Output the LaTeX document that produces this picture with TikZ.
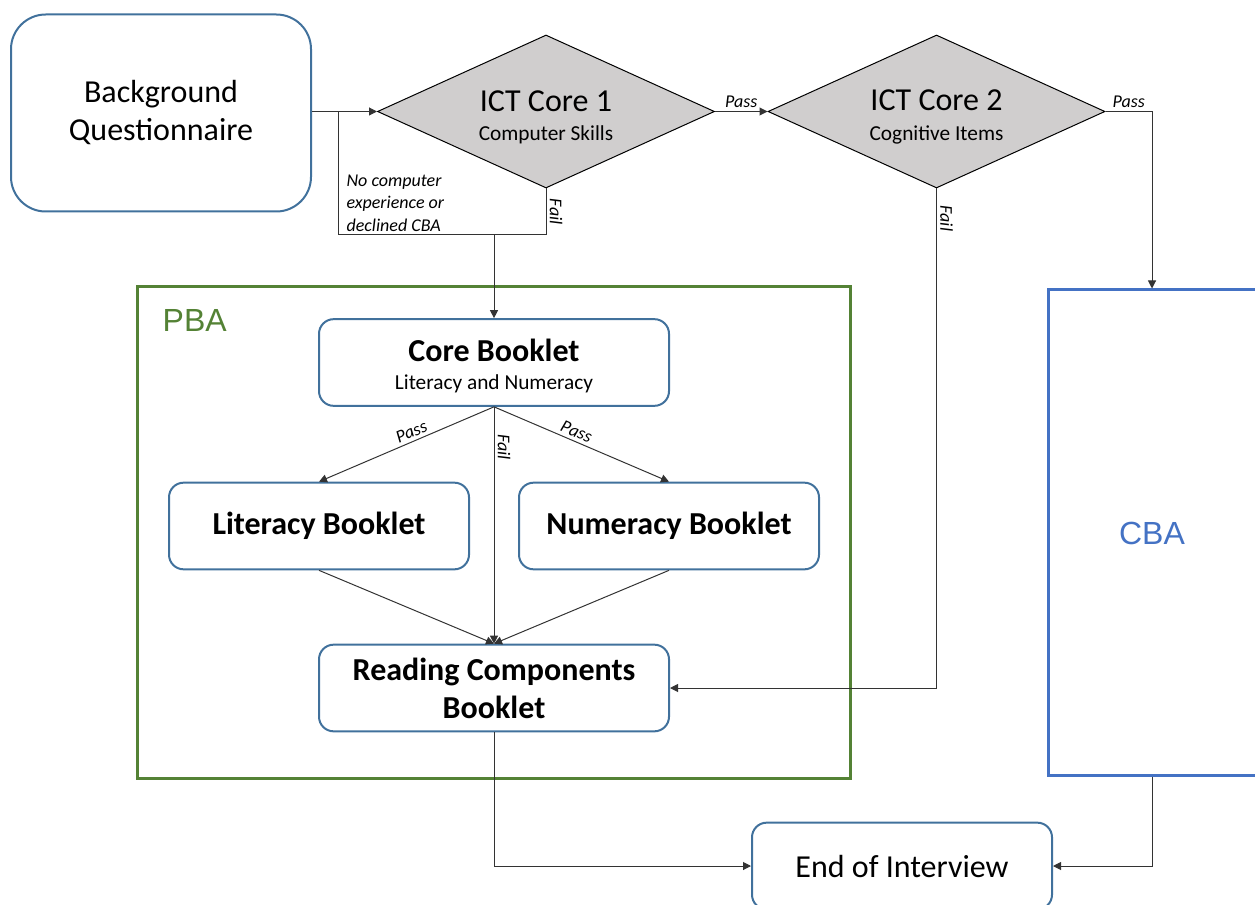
\documentclass[tikz,border=0pt]{standalone}
\usepackage{fontspec}
\setmainfont{Carlito}
\newfontfamily\arialf{Liberation Sans}
\usetikzlibrary{arrows.meta,shapes.geometric}
\definecolor{bc}{RGB}{65,113,156}
\definecolor{dc}{RGB}{208,206,206}
\definecolor{pc}{RGB}{84,130,53}
\definecolor{cc}{RGB}{68,114,196}
\newcommand{\fbig}{\fontsize{24}{28.5}\selectfont}
\newcommand{\fsub}{\fontsize{16}{22}\selectfont}
\newcommand{\fsm}{\fontsize{13.5}{17}\selectfont\itshape}
\tikzset{bx/.style={draw=bc,line width=1.5pt,rounded corners=11pt,minimum width=225pt,minimum height=65pt,align=center,font=\fbig,inner sep=0pt},
 bbx/.style={bx,font=\fbig\bfseries},
 dm/.style={diamond,aspect=2.2,draw,fill=dc,line width=.75pt,minimum width=252.75pt,minimum height=114.75pt,inner sep=0pt,align=center},
 pbox/.style={draw=pc,line width=2.25pt,minimum width=534.75pt,minimum height=368.25pt},
 cbox/.style={draw=cc,line width=2.25pt,minimum width=156pt,minimum height=363.75pt},
 wire/.style={line width=.75pt,draw=black!80},arr/.style={wire,-{Triangle[length=6pt,width=6pt]}},
 lab/.style={font=\fsm,inner sep=2.5pt}}
\begin{document}
\begin{tikzpicture}[x=.75pt,y=-.75pt]
\useasboundingbox (0,0) rectangle (1255,905);\clip (0,0) rectangle (1255,905);
\node[pbox] (pba) at (493.5,532.5) {};\node[font=\arialf\fbig,text=pc,anchor=west] (pbat) at (158,320) {PBA};
\node[cbox] (cba) at (1152,532.5) {};\node[font=\arialf\fbig,text=cc] (cbat) at (1152,533) {CBA};
\node[bx,minimum height=147.75pt,rounded corners=26pt] (bq) at (161,113) {Background\\Questionnaire};
\node[dm] (d1) at (546,111.5) {\rule{0pt}{24pt}\fbig ICT Core 1\\[10pt]\fsub Computer Skills};
\node[dm] (d2) at (936.5,111.5) {\rule{0pt}{24pt}\fbig ICT Core 2\\[10pt]\fsub Cognitive Items};
\node[bx,minimum width=262.5pt] (core) at (494,362.5) {\rule{0pt}{22pt}\textbf{Core Booklet}\\[-7pt]\fsub Literacy and Numeracy};
\node[bbx] (lit) at (319,526) {Literacy Booklet};
\node[bbx] (num) at (669,526) {Numeracy Booklet};
\node[bbx,minimum width=262.5pt] (rcb) at (494,688) {Reading Components\\Booklet};
\node[bx] (end) at (902,866) {End of Interview};
% routing points
\coordinate (j1) at (338,111.5);\coordinate (j2) at (546,235);\coordinate (j3) at (494,235);
\draw[arr] (bq.east|-d1.west)--(d1.west);
\draw[wire] (j1)|-(j2);\draw[wire] (d1.south)--node[lab,sloped,above]{Fail}(j2);
\node[lab,anchor=west,align=left] (nc) at (343,203) {No computer\\experience or\\declined CBA};
\draw[arr] (j3)--(core.north);
\draw[arr] (d1.east)--node[lab,above]{Pass}(d2.west);
\draw[arr] (d2.east)-|node[lab,above,pos=.25]{Pass}(cba.north);
\draw[arr] (d2.south)|-node[lab,sloped,above,pos=.03]{Fail}(rcb.east);
\draw[arr] (core.south)--node[lab,sloped,above,pos=.45]{Pass}(lit.north);
\draw[arr] (core.south)--node[lab,sloped,above,pos=.45]{Pass}(num.north);
\draw[arr] (core.south)--node[lab,sloped,above,pos=.17]{Fail}(rcb.north);
\draw[arr] (lit.south)--(rcb.north);\draw[arr] (num.south)--(rcb.north);
\draw[arr] (rcb.south)|-(end.west);\draw[arr] (cba.south)|-(end.east);
\end{tikzpicture}
\end{document}
